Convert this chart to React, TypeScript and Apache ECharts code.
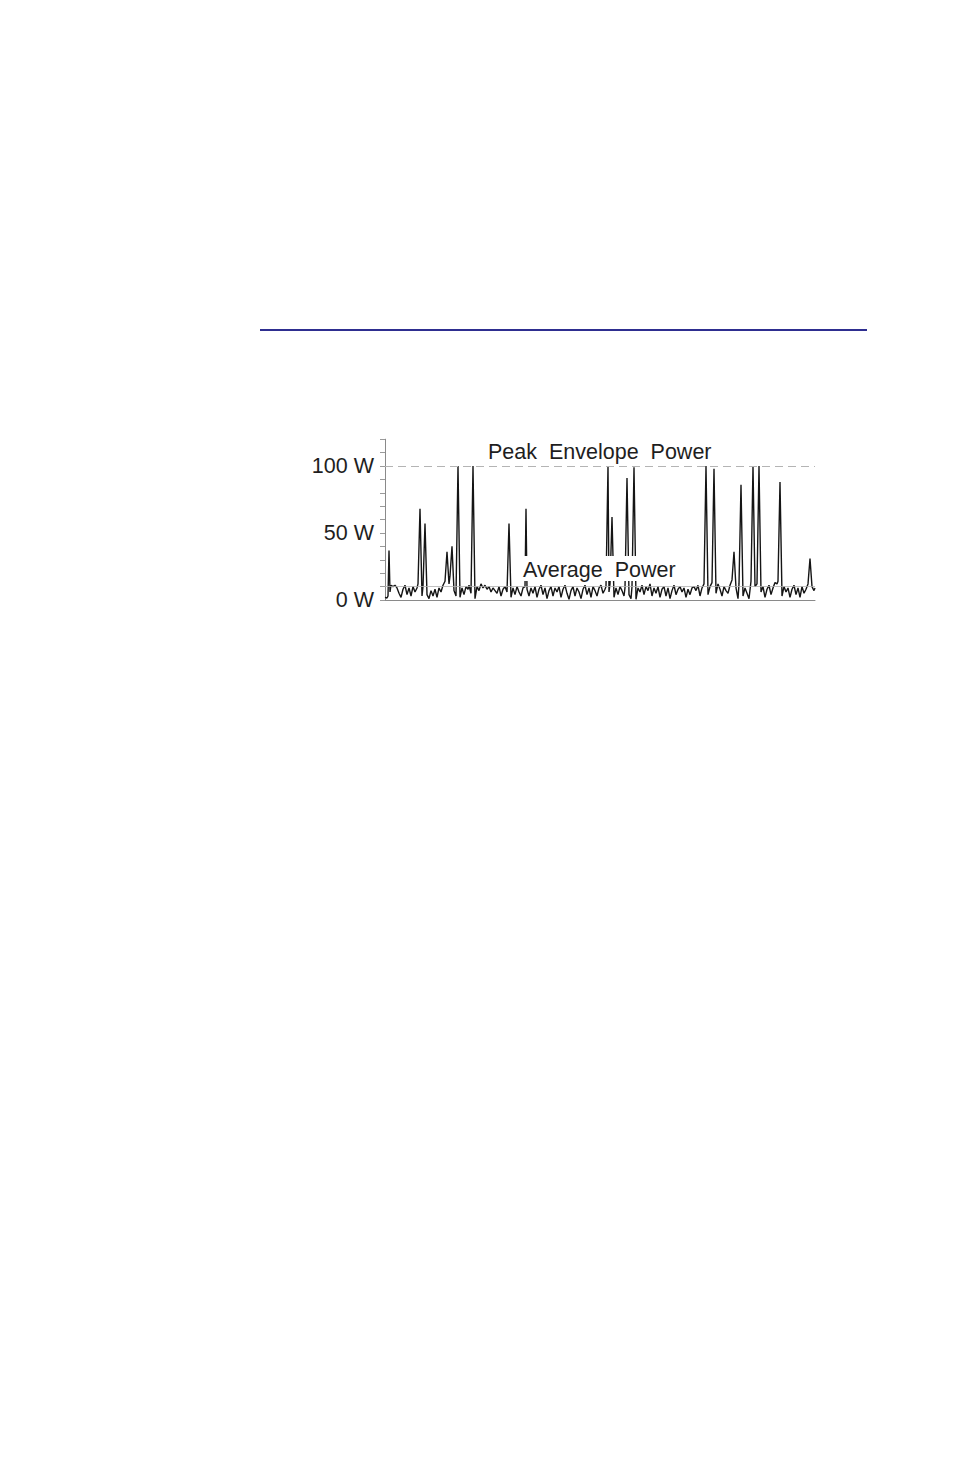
import { useEffect, useRef } from 'react';
import * as echarts from 'echarts';

// time axis is in arbitrary sample units (0..430), power in watts
const sampleTimes = [
  0, 2, 3, 4, 5, 6, 8, 10, 12, 14, 16, 18, 20, 22, 24, 26, 28, 30, 32, 33,
  35, 37, 38, 40, 42, 44, 46, 48, 50, 52, 54, 56, 58, 60, 62, 64, 65, 67, 69, 71,
  73, 75, 77, 79, 81, 83, 84, 86, 88, 90, 92, 94, 96, 98, 100, 102, 104, 106, 108, 110,
  112, 114, 116, 118, 120, 122, 124, 126, 128, 130, 132, 134, 136, 138, 140, 141, 142, 144, 146, 148,
  150, 152, 154, 156, 158, 160, 162, 164, 166, 168, 170, 172, 174, 176, 178, 180, 182, 184, 186, 188,
  190, 192, 194, 196, 198, 200, 202, 204, 206, 208, 210, 212, 214, 216, 218, 220, 221, 223, 224, 225,
  227, 229, 231, 233, 235, 237, 239, 240, 242, 244, 246, 247, 249, 251, 253, 255, 257, 259, 261, 263,
  265, 267, 269, 271, 273, 275, 277, 279, 281, 283, 285, 287, 289, 291, 293, 295, 297, 299, 301, 303,
  305, 307, 309, 311, 313, 315, 317, 319, 321, 323, 325, 327, 329, 331, 333, 335, 337, 339, 341, 343,
  345, 347, 349, 351, 353, 354, 356, 358, 360, 362, 364, 366, 368, 370, 372, 374, 376, 378, 380, 382,
  384, 386, 388, 390, 392, 393, 395, 397, 399, 401, 403, 405, 407, 409, 411, 413, 415, 417, 419, 421,
  423, 425, 427, 429, 430,
];

const powerWatts = [
  2, 1.5, 3, 37, 6, 11, 10, 11, 9, 5, 2, 8, 11, 4, 9, 3, 10, 6, 9, 12,
  68, 3, 10, 57, 4, 1, 7, 3, 8, 2, 9, 6, 11, 14, 36, 12, 18, 40, 7, 3,
  100, 2, 9, 4, 10, 8, 11, 5, 100, 1, 10, 7, 12, 9, 11, 8, 10, 6, 9, 7,
  5, 10, 3, 8, 10, 6, 57, 2, 9, 4, 10, 6, 3, 9, 10, 68, 8, 3, 9, 5,
  10, 2, 8, 11, 4, 9, 1, 7, 10, 3, 9, 6, 10, 2, 8, 11, 5, 0.5, 7, 10,
  3, 9, 6, 1, 8, 11, 4, 9, 2, 10, 7, 3, 9, 11, 5, 8, 10, 100, 6, 12,
  62, 2, 9, 4, 10, 7, 3, 9, 91, 4, 1, 10, 99, 0.5, 9, 6, 11, 4, 10, 7,
  12, 3, 9, 5, 10, 2, 8, 10, 3, 9, 1, 7, 11, 4, 8, 10, 6, 9, 2, 8,
  4, 9, 10, 7, 11, 3, 9, 12, 100, 4, 10, 13, 98, 5, 12, 8, 3, 10, 7, 5,
  11, 15, 36, 9, 1, 12, 86, 3, 9, 5, 1, 14, 100, 10, 12, 100, 6, 10, 2, 8,
  11, 4, 9, 13, 12, 14, 88, 3, 10, 6, 9, 2, 8, 11, 4, 9, 2, 10, 5, 8,
  12, 31, 10, 7, 9,
];

const yTicksLabelled = [0, 50, 100];
const peakEnvelope = 100;
const averagePower = 10;

const FONT = '"Liberation Sans", Arial, sans-serif';

export default function App() {
  const elRef = useRef<HTMLDivElement>(null);

  useEffect(() => {
    const el = elRef.current;
    if (!el) return;
    const chart = echarts.init(el, undefined, { renderer: 'svg' });

    const data = sampleTimes.map((t, i) => [t, powerWatts[i]]);

    chart.setOption({
      animation: false,
      backgroundColor: '#fff',
      grid: { left: 385, right: 139, top: 439.2, bottom: 874 },
      xAxis: {
        type: 'value',
        min: 0,
        max: 430,
        axisLine: { show: true, onZero: false, lineStyle: { color: '#8a8a8a', width: 1 } },
        axisTick: { show: false },
        axisLabel: { show: false },
        splitLine: { show: false },
      },
      yAxis: {
        type: 'value',
        min: 0,
        max: 120,
        interval: 10,
        axisLine: { show: true, lineStyle: { color: '#8a8a8a', width: 1 } },
        axisTick: { show: true, inside: false, length: 5, lineStyle: { color: '#9a9a9a' } },
        axisLabel: {
          margin: 11,
          color: '#1e1e1e',
          fontFamily: FONT,
          fontSize: 21.5,
          formatter: (v: number) => (yTicksLabelled.includes(v) ? `${v} W` : ''),
        },
        splitLine: { show: false },
      },
      series: [
        {
          type: 'line',
          data,
          showSymbol: false,
          symbol: 'none',
          lineStyle: { color: '#151515', width: 1.4 },
          z: 3,
          markLine: {
            silent: true,
            symbol: ['none', 'none'],
            label: { show: false },
            data: [
              { yAxis: peakEnvelope, lineStyle: { color: '#b4b4b4', type: [8, 5], width: 1 } },
              { yAxis: averagePower, lineStyle: { color: '#b0b0b0', type: 'solid', width: 0.8 } },
            ],
          },
        },
      ],
      graphic: [
        {
          type: 'rect',
          z: 100,
          shape: { x: 260, y: 329, width: 607, height: 2 },
          style: { fill: '#2e2e90' },
        },
        {
          type: 'text',
          z: 100,
          style: {
            text: 'Peak\u00a0 Envelope\u00a0 Power',
            x: 488,
            y: 451.5,
            fill: '#1e1e1e',
            font: `21.5px ${FONT}`,
            textAlign: 'left',
            textVerticalAlign: 'middle',
          },
        },
        {
          type: 'rect',
          z: 100,
          shape: { x: 519, y: 556, width: 162, height: 25 },
          style: { fill: '#fff' },
        },
        {
          type: 'text',
          z: 101,
          style: {
            text: 'Average\u00a0 Power',
            x: 523,
            y: 569.5,
            fill: '#1e1e1e',
            font: `21.5px ${FONT}`,
            textAlign: 'left',
            textVerticalAlign: 'middle',
          },
        },
      ],
    });

    return () => chart.dispose();
  }, []);

  return (
    <div
      ref={elRef}
      style={{ position: 'fixed', left: 0, top: 0, width: 954, height: 1474 }}
    />
  );
}
